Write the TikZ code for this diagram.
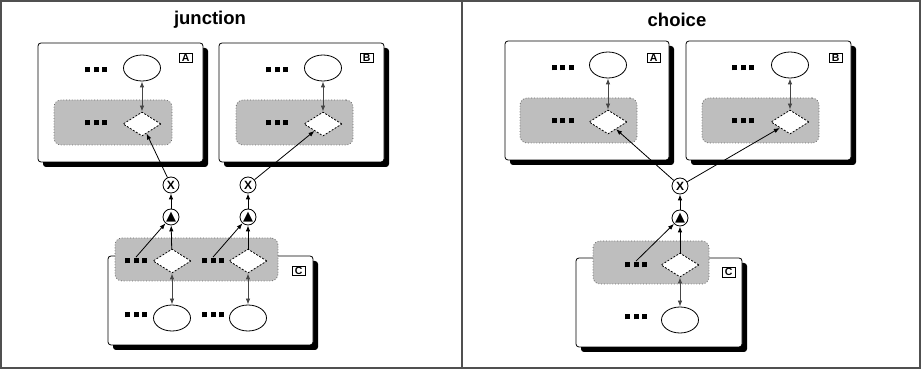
\documentclass[tikz,border=0pt]{standalone}
\usepackage{fontspec}
\setmainfont{Liberation Sans}
\newfontfamily\symfont{DejaVu Sans}
\usetikzlibrary{arrows.meta,positioning,shapes.geometric,shadows}
\definecolor{grp}{RGB}{190,190,190}
\definecolor{grpline}{RGB}{105,105,105}
\definecolor{link}{RGB}{70,70,70}
\definecolor{frame}{RGB}{80,80,80}
\newcommand\sqdots{\rule{5pt}{5pt}\hspace{3.5pt}\rule{5pt}{5pt}\hspace{3.5pt}\rule{5pt}{5pt}}
\newcommand\tri{{\symfont\fontsize{13}{13}\selectfont ▲}}

\begin{document}
\begin{tikzpicture}[
  x=1pt,y=-1pt,
  line width=0.8pt,
  title/.style={font=\fontsize{18.5}{20}\selectfont\bfseries},
  comp/.style={draw,fill=white,rounded corners=3pt,inner sep=0pt,
    drop shadow={fill=black,opacity=1,shadow xshift=5pt,shadow yshift=-5pt}},
  grpbox/.style={draw=grpline,fill=grp,dotted,rounded corners=7pt,inner sep=0pt},
  tag/.style={draw,fill=white,inner sep=0pt,minimum width=12.5pt,minimum height=9.5pt,
    font=\fontsize{10.5}{10.5}\selectfont\bfseries},
  state/.style={draw,ellipse,fill=white,minimum width=37pt,minimum height=26pt,inner sep=0pt},
  port/.style={draw,diamond,fill=white,dash pattern=on 2pt off 1.5pt,
    minimum width=38pt,minimum height=24pt,inner sep=0pt},
  op/.style={draw,circle,fill=white,minimum size=16pt,inner sep=0pt},
  xop/.style={op,font=\fontsize{12}{12}\selectfont\bfseries},
  etc/.style={inner sep=1pt},
  arr/.style={-{Latex[length=6pt,width=4.5pt]}},
  dblarr/.style={{Latex[length=6pt,width=4.5pt]}-{Latex[length=6pt,width=4.5pt]},draw=link}
]
\useasboundingbox (0,0) rectangle (922,371);
\draw[frame,line width=1.2pt] (1,1) rectangle (920,368);
\draw[frame,line width=1.2pt] (462,1) -- (462,368);

% junction
\node[title] (jt) at (210,20) {junction};
\node[comp,minimum width=165pt,minimum height=119pt] (jA) at (120.5,102.5) {};
\node[comp,minimum width=165pt,minimum height=119pt] (jB) at (301.5,102.5) {};
\node[comp,minimum width=205pt,minimum height=89pt] (jC) at (210.5,300.5) {};
\node[tag,below left=10pt and 11pt of jA.north east] (jAt) {A};
\node[tag,below left=10pt and 11pt of jB.north east] (jBt) {B};
\node[tag,below left=10pt and 8pt of jC.north east] (jCt) {C};
\node[grpbox,minimum width=118pt,minimum height=45pt] (jAg) at (113,122.5) {};
\node[grpbox,minimum width=117pt,minimum height=45pt] (jBg) at (294.5,122.5) {};
\node[grpbox,minimum width=163pt,minimum height=43pt] (jCg) at (196.5,259.5) {};
\node[state] (jAe) at (142,68) {};
\node[state] (jBe) at (323,68) {};
\node[etc] (jAm) at (96,70) {\sqdots};
\node[etc] (jBm) at (277,70) {\sqdots};
\node[etc] (jAn) at (96,123) {\sqdots};
\node[etc] (jBn) at (277,123) {\sqdots};
\node[port] (jAd) at (142,124) {};
\node[port] (jBd) at (323,124) {};
\node[xop] (jx1) at (171,185) {X};
\node[xop] (jx2) at (248,185) {X};
\node[op] (jt1) at (171,217) {\tri};
\node[op] (jt2) at (248,217) {\tri};
\node[port] (jCd1) at (172,261) {};
\node[port] (jCd2) at (248,261) {};
\node[etc] (jCn1) at (136,261) {\sqdots};
\node[etc] (jCn2) at (213,261) {\sqdots};
\node[state] (jCe1) at (172,318) {};
\node[state] (jCe2) at (248,318) {};
\node[etc] (jCm1) at (136,315) {\sqdots};
\node[etc] (jCm2) at (213,315) {\sqdots};
\draw[dblarr] (jAe) -- (jAd);
\draw[dblarr] (jBe) -- (jBd);
\draw[dblarr] (jCd1) -- (jCe1);
\draw[dblarr] (jCd2) -- (jCe2);
\draw[arr] (jCd1) -- (jt1);
\draw[arr] (jCd2) -- (jt2);
\draw[arr] (jCn1.north) -- (jt1);
\draw[arr] (jCn2.north) -- (jt2);
\draw[arr] (jt1) -- (jx1);
\draw[arr] (jt2) -- (jx2);
\draw[arr] (jx1) -- (jAd);
\draw[arr] (jx2) -- (jBd);

% choice
\node[title] (ct) at (677,20) {choice};
\node[comp,minimum width=164pt,minimum height=119pt] (cA) at (587,100.5) {};
\node[comp,minimum width=165pt,minimum height=119pt] (cB) at (768.5,100.5) {};
\node[comp,minimum width=166pt,minimum height=89pt] (cC) at (659,302.5) {};
\node[tag,below left=12pt and 9pt of cA.north east] (cAt) {A};
\node[tag,below left=12pt and 9pt of cB.north east] (cBt) {B};
\node[tag,below left=9.5pt and 7pt of cC.north east] (cCt) {C};
\node[grpbox,minimum width=117pt,minimum height=45pt] (cAg) at (578.5,120.5) {};
\node[grpbox,minimum width=117pt,minimum height=45pt] (cBg) at (760.5,120.5) {};
\node[grpbox,minimum width=116pt,minimum height=43pt] (cCg) at (651,262.5) {};
\node[state] (cAe) at (608,65) {};
\node[state] (cBe) at (790,65) {};
\node[etc] (cAm) at (562.5,68) {\sqdots};
\node[etc] (cBm) at (743,68) {\sqdots};
\node[etc] (cAn) at (562.5,121) {\sqdots};
\node[etc] (cBn) at (743,121) {\sqdots};
\node[port] (cAd) at (608,122) {};
\node[port] (cBd) at (790,122) {};
\node[xop] (cx) at (680,186) {X};
\node[op] (ctr) at (680,218) {\tri};
\node[port] (cCd) at (680,265) {};
\node[etc] (cCn) at (636,265) {\sqdots};
\node[state] (cCe) at (680,320) {};
\node[etc] (cCm) at (636,317) {\sqdots};
\draw[dblarr] (cAe) -- (cAd);
\draw[dblarr] (cBe) -- (cBd);
\draw[dblarr] (cCd) -- (cCe);
\draw[arr] (cCd) -- (ctr);
\draw[arr] (cCn.north) -- (ctr);
\draw[arr] (ctr) -- (cx);
\draw[arr] (cx) -- (cAd);
\draw[arr] (cx) -- (cBd);
\end{tikzpicture}
\end{document}
